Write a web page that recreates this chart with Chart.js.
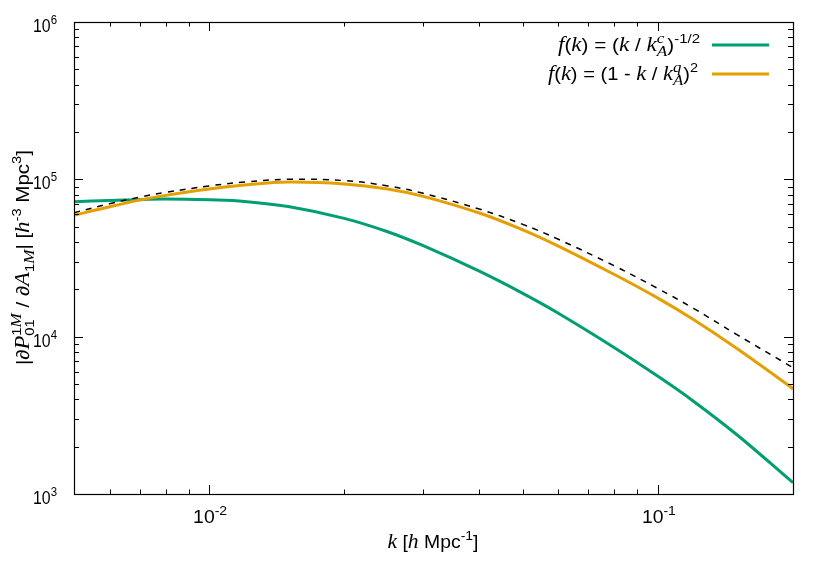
<!DOCTYPE html>
<html><head><meta charset="utf-8">
<script src="https://cdn.jsdelivr.net/npm/chart.js@4"></script>
<style>html,body{margin:0;padding:0;background:#fff}#wrap{width:830px;height:580px;position:relative}</style>
</head><body><div id="wrap"><canvas id="c" width="830" height="580" style="width:830px;height:580px"></canvas></div>
<script>
// ---- data ----
const kValues = [0.005,0.006,0.007,0.008,0.01,0.012,0.015,0.02,0.025,0.03,0.04,0.05,0.06,0.08,0.1,0.12,0.15,0.2];
const powerLawValues = [72100,73300,74300,75000,74100,72400,67100,56500,46450,37840,26060,18840,14090,8510,5600,3890,2380,1180];
const quadraticValues = [59020,66990,73790,79070,86900,92040,96160,93540,86900,77980,61090,47750,37670,24830,17580,12850,8410,4670];
const referenceValues = [61380,69980,77090,82600,90780,96160,100000,98170,90780,81470,64710,51760,41590,28180,20230,15140,10300,6350];
const xMajorTicks = [0.01, 0.1];
const xMinorTicks = [0.006,0.007,0.008,0.009,0.02,0.03,0.04,0.05,0.06,0.07,0.08,0.09];
const xTickLabels = [['10','-2'],['10','-1']];
const yMajorTicks = [1e3,1e4,1e5,1e6];
const yTickLabels = [['10','3'],['10','4'],['10','5'],['10','6']];
const yMinorMultipliers = [2,3,4,5,6,7,8,9];

const GREEN = '#009e73', ORANGE = '#e69f00';

// ---- rich text helpers ----
const SANS = '"Liberation Sans", Arial, Helvetica, sans-serif';
const SERIF = '"Liberation Serif", "Times New Roman", serif';
function T(t){return {t, f:'sans', s:18};}
function I(t){return {t, f:'serif', i:true, s:20};}
function SUP(t){return {t, f:'sans', s:13, dy:-8};}
function SUPI(t){return {t, f:'serif', i:true, s:15, dy:-8};}
function SUBI(t){return {t, f:'serif', i:true, s:15, dy:5};}
function SUB(t){return {t, f:'sans', s:13, dy:5};}
function fontStr(s){return (s.i?'italic ':'')+(s.s||16)+'px '+(s.f==='serif'?SERIF:SANS);}
function segWidth(ctx,s){
  if(s.stack) return Math.max(...s.stack.map(q=>segWidth(ctx,q)));
  if(s.seq) return s.seq.reduce((a,q)=>a+segWidth(ctx,q),0);
  ctx.font=fontStr(s); return ctx.measureText(s.t).width;
}
function richWidth(ctx,segs){return segs.reduce((a,s)=>a+segWidth(ctx,s),0);}
function drawRaw(ctx,segs,x,y){
  let cx=x;
  ctx.textAlign='left'; ctx.textBaseline='alphabetic';
  for(const s of segs){
    if(s.stack){ s.stack.forEach(q=>drawRaw(ctx,[q],cx,y)); cx+=segWidth(ctx,s); continue; }
    if(s.seq){ drawRaw(ctx,s.seq,cx,y); cx+=segWidth(ctx,s); continue; }
    ctx.font=fontStr(s); ctx.fillText(s.t,cx,y+(s.dy||0)); cx+=ctx.measureText(s.t).width;
  }
}
// draw rich text fitted horizontally between x0 and x1 at baseline y
function drawFit(ctx,segs,x0,x1,y){
  const w=richWidth(ctx,segs);
  ctx.save(); ctx.translate(x0,y); ctx.scale((x1-x0)/w,1); drawRaw(ctx,segs,0,0); ctx.restore();
}

const legendItems = [
  {color:GREEN, x0:558, x1:700, segs:[I('f'),T('('),I('k'),T(') = ('),I('k'),T(' / '),I('k'),{stack:[SUPI('c'),SUBI('A')]},T(')'),SUP('-1/2')]},
  {color:ORANGE, x0:548, x1:698, segs:[I('f'),T('('),I('k'),T(') = (1 - '),I('k'),T(' / '),I('k'),{stack:[SUPI('q'),SUBI('A')]},T(')'),SUP('2')]}
];
const xTitle = [I('k'),T(' ['),I('h'),T(' Mpc'),SUP('-1'),T(']')];
const yTitle = [T('|\u2202'),I('P'),{stack:[{seq:[SUP('1'),SUPI('M')]},SUB('01')]},T(' / \u2202'),I('A'),{seq:[SUB('1'),SUBI('M')]},T('| ['),I('h'),SUP('-3'),T(' Mpc'),SUP('3'),T(']')];

const framePlugin = {
  id:'frame',
  afterDatasetsDraw(chart){
    const ctx=chart.ctx, a=chart.chartArea, xs=chart.scales.x, ys=chart.scales.y;
    ctx.save();
    ctx.strokeStyle='#000'; ctx.lineWidth=1.2;
    ctx.strokeRect(a.left+0.5,a.top+0.5,a.right-a.left,a.bottom-a.top);
    ctx.lineWidth=1;
    ctx.beginPath();
    const xt=(v,len)=>{const p=Math.round(xs.getPixelForValue(v))+0.5;
      ctx.moveTo(p,a.bottom); ctx.lineTo(p,a.bottom-len);
      ctx.moveTo(p,a.top); ctx.lineTo(p,a.top+len);};
    xMajorTicks.forEach(v=>xt(v,9)); xMinorTicks.forEach(v=>xt(v,4.5));
    const yt=(v,len)=>{const p=Math.round(ys.getPixelForValue(v))+0.5;
      ctx.moveTo(a.left,p); ctx.lineTo(a.left+len,p);
      ctx.moveTo(a.right,p); ctx.lineTo(a.right-len,p);};
    yMajorTicks.forEach(v=>yt(v,9));
    yMajorTicks.slice(0,-1).forEach(v=>yMinorMultipliers.forEach(m=>yt(v*m,5)));
    ctx.stroke();
    ctx.fillStyle='#000';
    xMajorTicks.forEach((v,i)=>{
      const segs=[T(xTickLabels[i][0]),SUP(xTickLabels[i][1])];
      const p=xs.getPixelForValue(v);
      drawFit(ctx,segs,p-16,p+18,a.bottom+29);
    });
    yMajorTicks.forEach((v,i)=>{
      const segs=[T(yTickLabels[i][0]),SUP(yTickLabels[i][1])];
      const p=ys.getPixelForValue(v);
      drawFit(ctx,segs,a.left-41,a.left-17,p+10);
    });
    const cx=(a.left+a.right)/2;
    drawFit(ctx,xTitle,cx-46,cx+45,548);
    ctx.save();
    ctx.translate(29,(a.top+a.bottom)/2);
    ctx.rotate(-Math.PI/2);
    drawFit(ctx,yTitle,-107,108,0);
    ctx.restore();
    legendItems.forEach((it,i)=>{
      const cy=45+i*29;
      drawFit(ctx,it.segs,it.x0,it.x1,cy+6);
      ctx.strokeStyle=it.color; ctx.lineWidth=3;
      ctx.beginPath(); ctx.moveTo(712,cy); ctx.lineTo(769,cy); ctx.stroke();
    });
    ctx.restore();
  }
};

const toXY = vals => kValues.map((k,i)=>({x:k,y:vals[i]}));

new Chart(document.getElementById('c'),{
  type:'line',
  data:{datasets:[
    {label:'reference', data:toXY(referenceValues), borderColor:'#000', borderWidth:1.5, borderDash:[6,6], order:0},
    {label:'f(k) = (1 - k / k_A^q)^2', data:toXY(quadraticValues), borderColor:ORANGE, borderWidth:3, order:1},
    {label:'f(k) = (k / k_A^c)^-1/2', data:toXY(powerLawValues), borderColor:GREEN, borderWidth:3, order:2}
  ]},
  options:{
    responsive:false, animation:false, devicePixelRatio:1,
    layout:{padding:{top:22,right:37,left:0,bottom:0}},
    elements:{point:{radius:0},line:{tension:0.4,fill:false}},
    plugins:{legend:{display:false},tooltip:{enabled:false}},
    scales:{
      x:{type:'logarithmic',min:0.005,max:0.2,grid:{display:false},border:{display:false},ticks:{display:false},
         afterFit:s=>{s.height=86;}},
      y:{type:'logarithmic',min:1000,max:1e6,grid:{display:false},border:{display:false},ticks:{display:false},
         afterFit:s=>{s.width=74;}}
    }
  },
  plugins:[framePlugin]
});
</script>
</body></html>
